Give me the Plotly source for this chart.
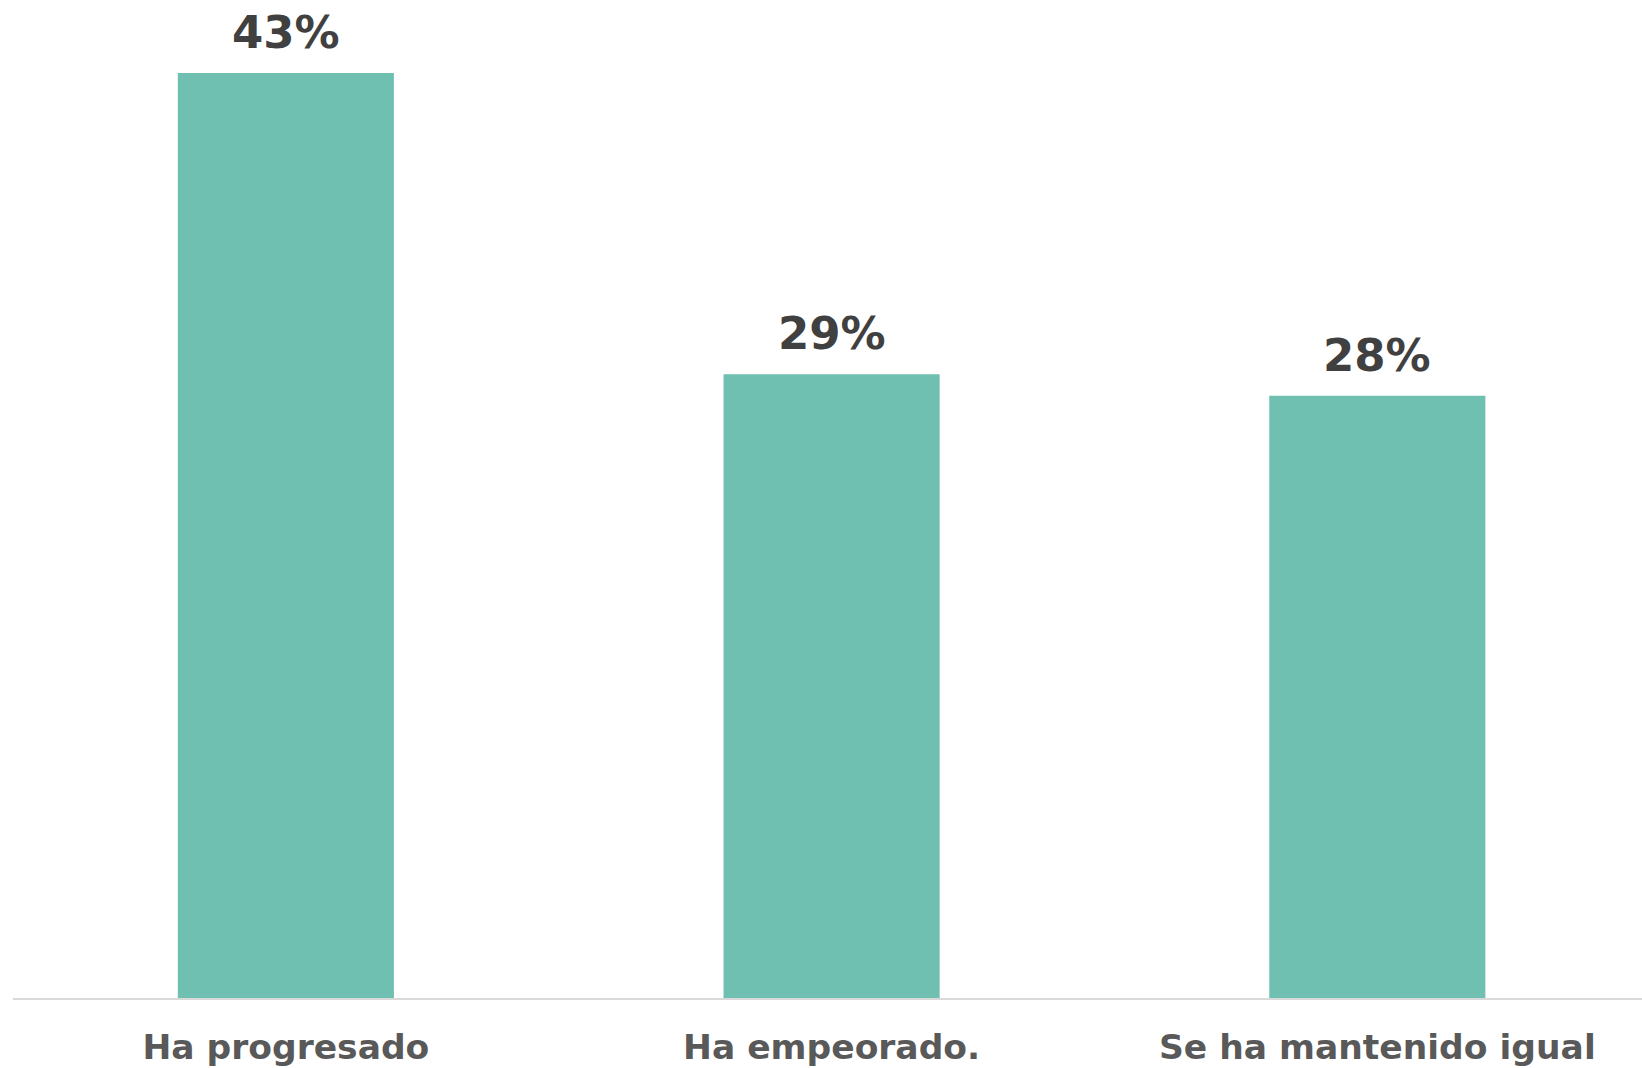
import plotly.graph_objects as go

categories = ["Ha progresado", "Ha empeorado.", "Se ha mantenido igual"]
values = [43, 29, 28]
value_labels = ["43%", "29%", "28%"]

bar_color = "#70C0B2"
font_family = "DejaVu Sans"

fig = go.Figure()
fig.add_trace(go.Bar(
    x=categories,
    y=values,
    marker=dict(color=bar_color, line=dict(width=0)),
    width=0.396,
    hoverinfo="skip",
))

for c, v, t in zip(categories, values, value_labels):
    fig.add_annotation(
        x=c, y=v, text="<b>%s</b>" % t, showarrow=False,
        yanchor="bottom", yshift=12,
        font=dict(family=font_family, size=45, color="#404040"),
    )

fig.update_layout(
    width=1642, height=1068,
    margin=dict(l=13, r=0, t=20, b=70),
    paper_bgcolor="white", plot_bgcolor="white",
    showlegend=False,
    xaxis=dict(
        type="category",
        range=[-0.5, 2.485],
        showline=True, linecolor="#d9d9d9", linewidth=2,
        showgrid=False, zeroline=False, ticks="",
        ticklabelstandoff=18,
        tickfont=dict(family=font_family, size=34.5, color="#595959", weight="bold"),
    ),
    yaxis=dict(
        range=[0, 978 / 21.51],
        visible=False, showgrid=False, zeroline=False,
    ),
)

fig.write_html(
    "out.html",
    config={"displayModeBar": False},
    post_script="document.body.style.margin='0';document.body.style.overflow='hidden';",
)
